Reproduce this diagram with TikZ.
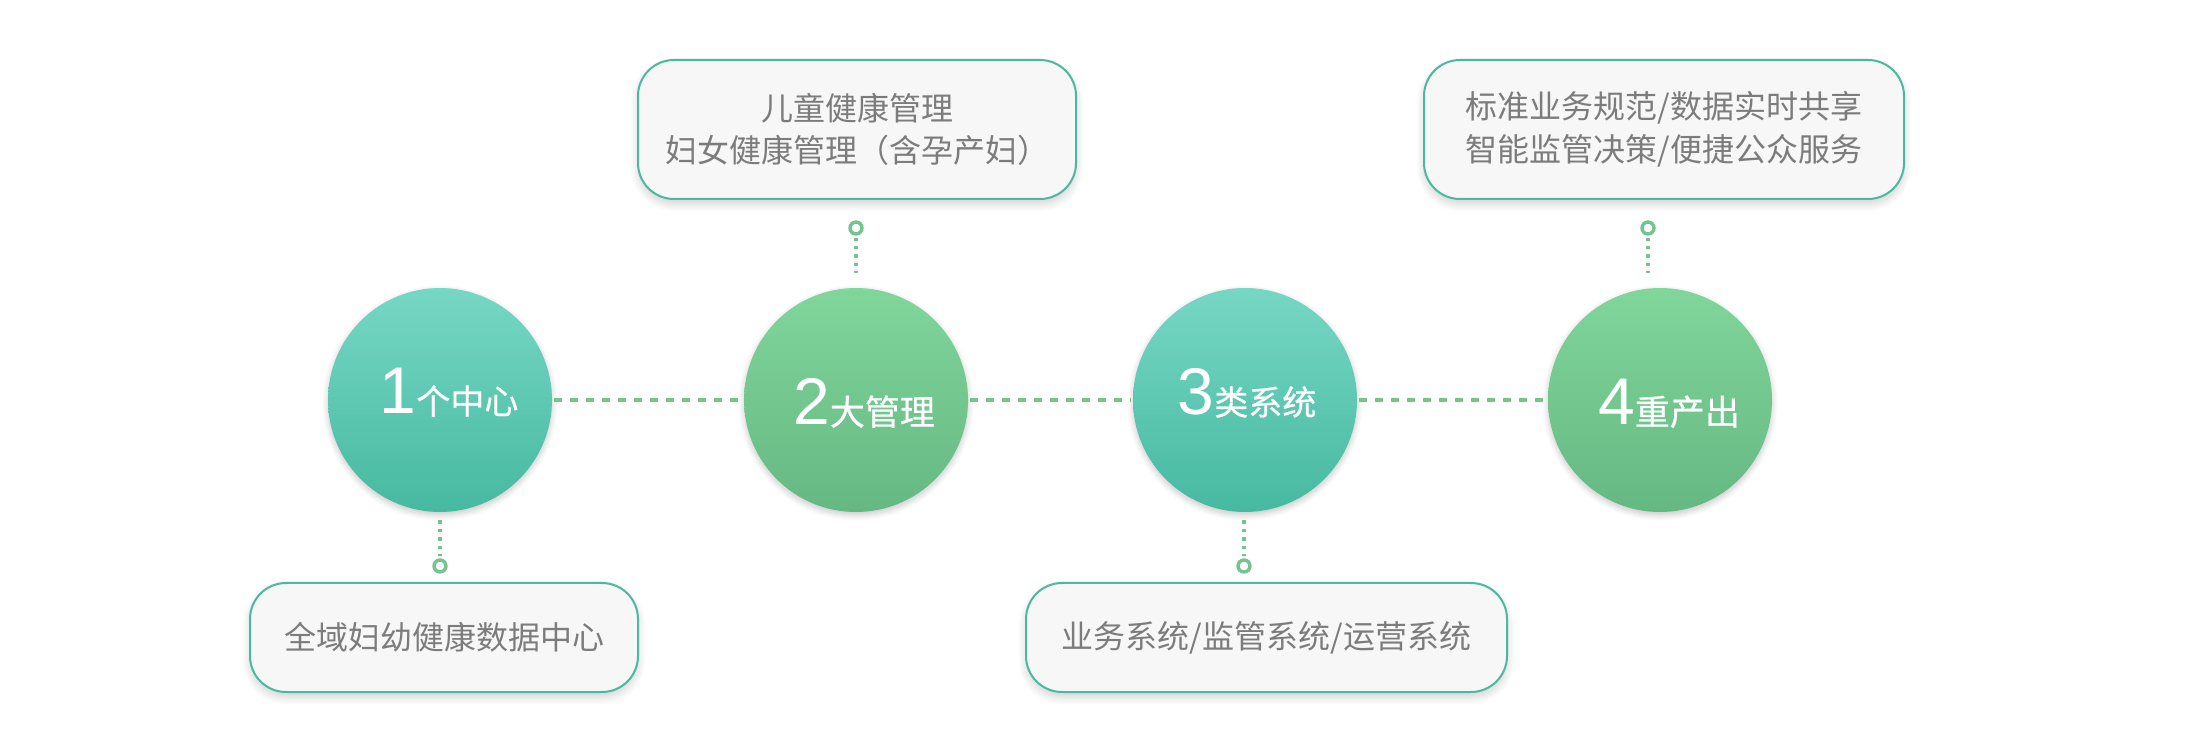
\documentclass[tikz,border=0pt]{standalone}
\usepackage{fontspec}
\setmainfont{Noto Sans CJK SC}
\newfontfamily\digitfont{Liberation Sans}
\newfontfamily\cjkmed[FakeBold=0.6]{Noto Sans CJK SC}
\usetikzlibrary{shadows.blur}
\definecolor{tealtop}{HTML}{76D7C4}
\definecolor{tealbot}{HTML}{47B9A1}
\definecolor{greentop}{HTML}{80D69B}
\definecolor{greenbot}{HTML}{65B882}
\definecolor{dotgreen}{HTML}{75C38E}
\definecolor{boxline}{HTML}{4BB9A0}
\definecolor{boxfill}{HTML}{F7F7F7}
\definecolor{textgray}{HTML}{7C7C7C}
\begin{document}
\begin{tikzpicture}[x=0.5pt,y=-0.5pt,
  softshadow/.style={blur shadow={shadow blur steps=8, shadow xshift=0pt, shadow yshift=-1.5pt, shadow opacity=22, shadow blur radius=3pt}},
  ball/.style={circle, minimum size=112pt, inner sep=0pt, softshadow},
  tealball/.style={ball, top color=tealtop, bottom color=tealbot},
  greenball/.style={ball, top color=greentop, bottom color=greenbot},
  infobox/.style={draw=boxline, line width=1pt, fill=boxfill, rounded corners=18pt,
    text=textgray, font=\fontsize{16}{21.5}\selectfont, align=center, inner sep=0pt,
    blur shadow={shadow blur steps=8, shadow xshift=0pt, shadow yshift=-2.5pt, shadow opacity=18, shadow blur radius=4pt}},
  ring/.style={circle, draw=dotgreen, line width=1.7pt, fill=white, minimum size=6pt, inner sep=0pt},
  hdash/.style={draw=dotgreen, line width=1.6pt, dash pattern=on 3.6pt off 4.4pt, shorten <=1pt, shorten >=1pt},
  vdot/.style={draw=dotgreen, line width=1.7pt, dash pattern=on 1.7pt off 2.5pt},
  circlabel/.style={text=white, anchor=base, inner sep=0pt},
]
\useasboundingbox (0,0) rectangle (2200,742);

% circles
\node[tealball]  (c1) at (440,400) {};
\node[greenball] (c2) at (856,400) {};
\node[tealball]  (c3) at (1245,400) {};
\node[greenball] (c4) at (1660,400) {};

% circle labels
\node[circlabel] (t1) at (449,414) {{\digitfont\fontsize{33}{33}\selectfont 1}{\cjkmed\fontsize{17}{17}\selectfont 个中心}};
\node[circlabel] (t2) at (864,425) {{\digitfont\fontsize{33}{33}\selectfont 2}{\cjkmed\fontsize{17.5}{17.5}\selectfont 大管理}};
\node[circlabel] (t3) at (1247,415) {{\digitfont\fontsize{33}{33}\selectfont 3}{\cjkmed\fontsize{17}{17}\selectfont 类系统}};
\node[circlabel] (t4) at (1669,425) {{\digitfont\fontsize{33}{33}\selectfont 4}{\cjkmed\fontsize{17.5}{17.5}\selectfont 重产出}};

% boxes
\node[infobox, minimum width=194pt, minimum height=54.5pt] (b1) at (444,637.5) {全域妇幼健康数据中心};
\node[infobox, minimum width=219pt, minimum height=69.5pt] (b2) at (857,129.5) {儿童健康管理\\[-0.3pt]妇女健康管理（含孕产妇）};
\node[infobox, minimum width=240.5pt, minimum height=54.5pt] (b3) at (1266.5,637.5) {业务系统/监管系统/运营系统};
\node[infobox, minimum width=240pt, minimum height=69.5pt] (b4) at (1664,129.5) {标准业务规范/数据实时共享\\[-0.3pt]智能监管决策/便捷公众服务};

% rings
\node[ring] (r1) at (440,566) {};
\node[ring] (r2) at (856,228) {};
\node[ring] (r3) at (1244,566) {};
\node[ring] (r4) at (1648,228) {};

% horizontal dashed connectors
\draw[hdash] (c1) -- (c2);
\draw[hdash] (c2) -- (c3);
\draw[hdash] (c3) -- (c4);

% vertical dotted connectors
\draw[vdot, shorten <=4pt, shorten >=1pt] (r1 |- c1.south) -- (r1);
\draw[vdot, shorten <=4pt, shorten >=1pt] (r3 |- c3.south) -- (r3);
\draw[vdot, shorten <=1pt, shorten >=7.5pt] (r2) -- (r2 |- c2.north);
\draw[vdot, shorten <=1pt, shorten >=7.5pt] (r4) -- (r4 |- c4.north);
\end{tikzpicture}
\end{document}
